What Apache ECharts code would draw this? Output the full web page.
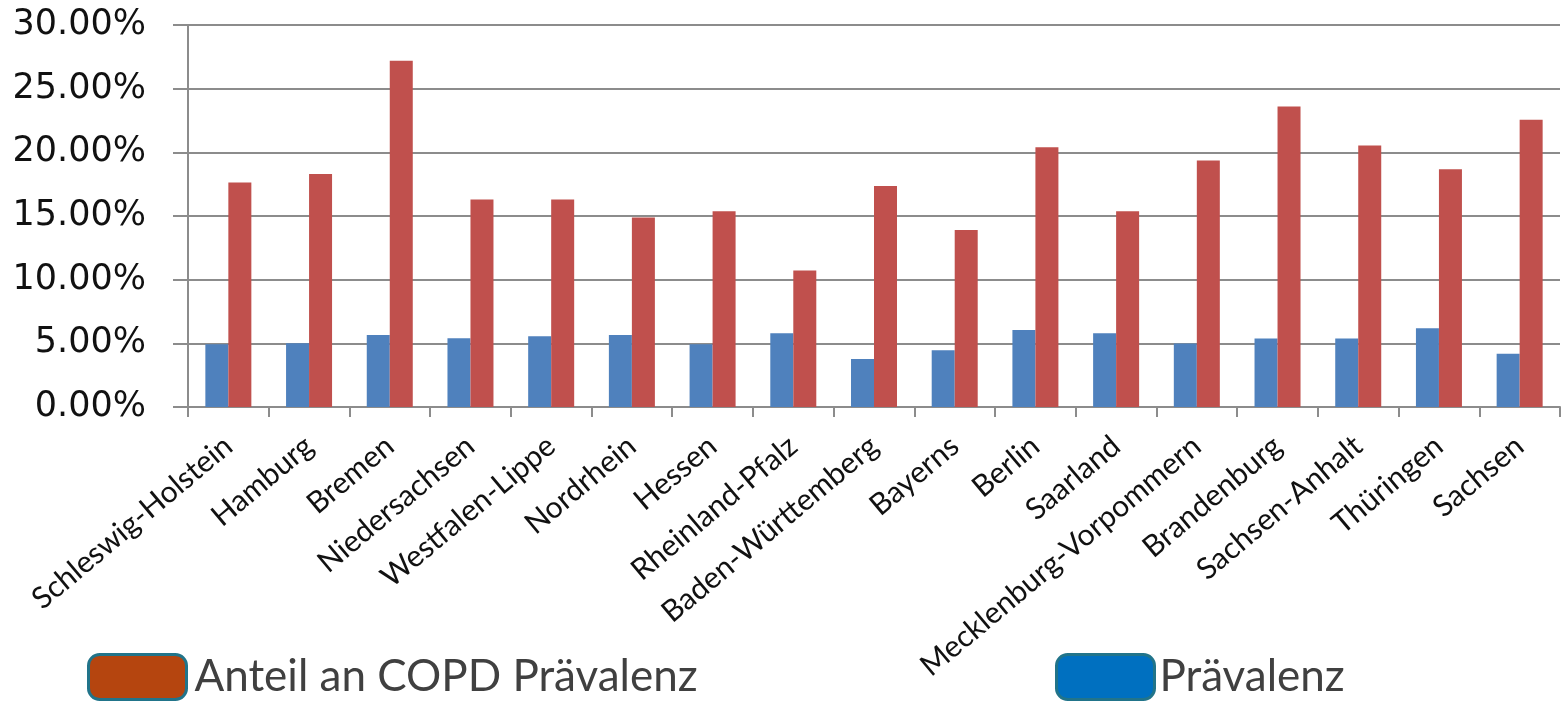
<!DOCTYPE html>
<html>
<head>
<meta charset="utf-8">
<script src="https://cdn.jsdelivr.net/npm/echarts@6/dist/echarts.min.js"></script>
<style>
  html, body { margin: 0; padding: 0; background: #fff; }
  #chart { width: 1563px; height: 701px; }
</style>
</head>
<body>
<div id="chart"></div>
<script>
const regions = ['Schleswig-Holstein', 'Hamburg', 'Bremen', 'Niedersachsen', 'Westfalen-Lippe',
  'Nordrhein', 'Hessen', 'Rheinland-Pfalz', 'Baden-Württemberg', 'Bayerns', 'Berlin',
  'Saarland', 'Mecklenburg-Vorpommern', 'Brandenburg', 'Sachsen-Anhalt', 'Thüringen', 'Sachsen']

// Prävalenz (%)
const praevalenz = [4.93, 5.0, 5.66, 5.4, 5.55, 5.66, 4.93, 5.79, 3.77, 4.45, 6.05,
  5.79, 4.98, 5.37, 5.37, 6.18, 4.19]

// Anteil an COPD Prävalenz (%)
const anteil = [17.63, 18.29, 27.2, 16.3, 16.3, 14.88, 15.38, 10.72, 17.35, 13.9, 20.4,
  15.38, 19.36, 23.6, 20.54, 18.68, 22.56]

const yTicks = [0, 5, 10, 15, 20, 25, 30]

const legendText = {
  fontFamily: 'Lato',
  fontSize: 44,
  lineHeight: 45,
  color: '#404040'
}

const chart = echarts.init(document.getElementById('chart'))
chart.setOption({
  animation: false,
  // two separate legends, the reference puts them far apart
  legend: [
    {
      left: 87,
      top: 653,
      padding: 0,
      itemWidth: 98,
      itemHeight: 45,
      icon: 'roundRect',
      textStyle: Object.assign({ padding: [0, 0, 0, 3] }, legendText),
      data: [{
        name: 'Anteil an COPD Prävalenz',
        itemStyle: { color: '#B5450F', borderColor: '#21748A', borderWidth: 3 }
      }]
    },
    {
      left: 1055,
      top: 653,
      padding: 0,
      itemWidth: 98,
      itemHeight: 45,
      icon: 'roundRect',
      textStyle: Object.assign({ padding: [0, 0, 0, 0] }, legendText),
      data: [{
        name: 'Prävalenz',
        itemStyle: { color: '#0070C0', borderColor: '#21748A', borderWidth: 3 }
      }]
    }
  ],
  grid: {
    left: 188,
    right: 3,
    top: 25,
    bottom: 294,
    containLabel: false
  },
  xAxis: {
    type: 'category',
    data: regions,
    axisLine: { lineStyle: { color: '#8C8C8C', width: 2 } },
    axisTick: { show: true, length: 10, lineStyle: { color: '#8C8C8C', width: 2 } },
    axisLabel: {
      rotate: 40,
      interval: 0,
      margin: 35,
      fontFamily: 'Lato',
      fontSize: 30,
      color: '#111'
    }
  },
  yAxis: {
    type: 'value',
    min: yTicks[0],
    max: yTicks[yTicks.length - 1],
    interval: 5,
    axisLine: { show: true, lineStyle: { color: '#8C8C8C', width: 2 } },
    axisTick: { show: true, length: 15, lineStyle: { color: '#8C8C8C', width: 2 } },
    splitLine: { lineStyle: { color: '#8C8C8C', width: 2 } },
    axisLabel: {
      margin: 42,
      fontFamily: 'DejaVu Sans',
      fontSize: 35,
      color: '#111',
      formatter: v => v.toFixed(2) + '%'
    }
  },
  series: [
    {
      name: 'Prävalenz',
      type: 'bar',
      data: praevalenz,
      barWidth: '28.5%',
      barGap: '0%',
      itemStyle: { color: '#4F81BD' }
    },
    {
      name: 'Anteil an COPD Prävalenz',
      type: 'bar',
      data: anteil,
      barWidth: '28.5%',
      barGap: '0%',
      itemStyle: { color: '#C0504D' }
    }
  ]
})
</script>
</body>
</html>
